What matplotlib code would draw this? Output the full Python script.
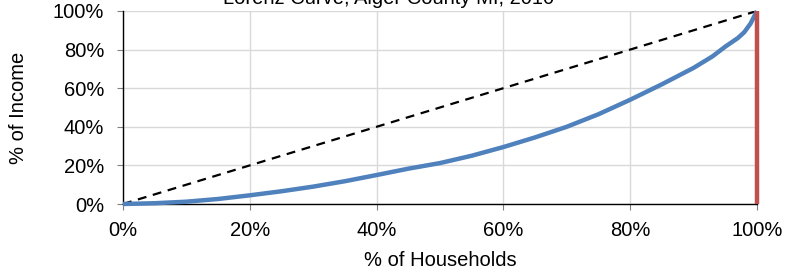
import matplotlib
matplotlib.use("Agg")
import matplotlib.pyplot as plt
from matplotlib.ticker import PercentFormatter

plt.rcParams['font.family'] = ['Liberation Sans', 'DejaVu Sans']

# Lorenz curve (share of households vs share of income)
households = [0.0, 0.05, 0.10, 0.15, 0.20, 0.25, 0.30, 0.35, 0.40, 0.45, 0.50,
              0.55, 0.60, 0.65, 0.70, 0.75, 0.80, 0.85, 0.90, 0.93, 0.95,
              0.97, 0.98, 0.99, 1.0]
income = [0.0, 0.004, 0.012, 0.026, 0.045, 0.066, 0.090, 0.118, 0.150, 0.183,
          0.212, 0.250, 0.295, 0.345, 0.400, 0.465, 0.540, 0.620, 0.705, 0.765,
          0.815, 0.860, 0.890, 0.935, 1.0]
equality_x = [0.0, 1.0]
equality_y = [0.0, 1.0]
ticks = [0.0, 0.2, 0.4, 0.6, 0.8, 1.0]

fig = plt.figure(figsize=(7.86, 2.72), dpi=100)
ax = fig.add_axes([0.1565, 0.25, 0.8065, 0.7096])

ax.plot(equality_x, equality_y, color='black', lw=1.6, dashes=(4, 3), zorder=3)
ax.plot(households, income, color='#4F81BD', lw=3.2, solid_capstyle='butt',
        clip_on=False, zorder=4)
ax.plot([1.0, 1.0], [0.0, 1.0], color='#C0504D', lw=3.2, solid_capstyle='butt',
        clip_on=False, zorder=5)

ax.set_xlim(0, 1)
ax.set_ylim(0, 1)
ax.set_xticks(ticks)
ax.set_yticks(ticks)
ax.xaxis.set_major_formatter(PercentFormatter(1.0, decimals=0))
ax.yaxis.set_major_formatter(PercentFormatter(1.0, decimals=0))
ax.grid(True, color='#D9D9D9', lw=1)
ax.set_axisbelow(True)
for s in ['top', 'right']:
    ax.spines[s].set_visible(False)
ax.spines['left'].set_linewidth(1)
ax.spines['bottom'].set_linewidth(1)
ax.tick_params(axis='both', labelsize=14.5, length=4.5, color='#808080')
ax.tick_params(axis='y', pad=9)
ax.tick_params(axis='x', pad=8)

ax.set_xlabel('% of Households', fontsize=14.5, labelpad=8)
ax.set_ylabel('% of Income', fontsize=14.5, labelpad=18)
fig.text(0.494, 0.986, 'Lorenz Curve, Alger County MI, 2010', fontsize=14.5,
         ha='center', va='baseline')

fig.savefig('out.png', dpi=100)
